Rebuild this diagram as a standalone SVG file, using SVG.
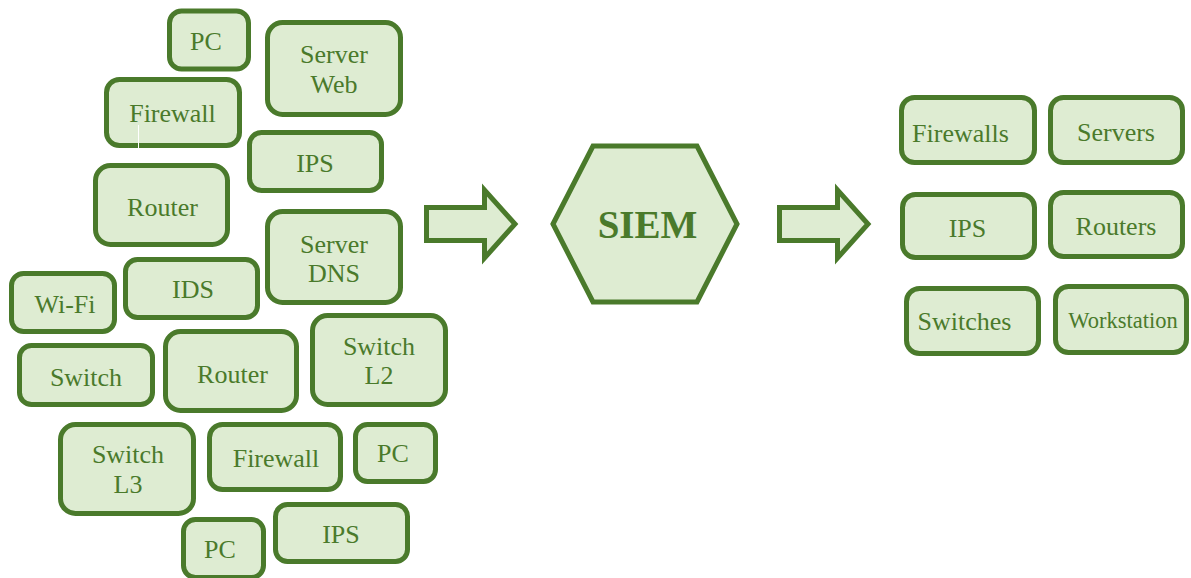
<svg xmlns="http://www.w3.org/2000/svg" width="1191" height="578" viewBox="0 0 1191 578">
<style>
.b{fill:#deecd2;stroke:#4a7a2b;stroke-width:5}
.t{font-family:"Liberation Serif","Times New Roman",serif;font-size:26px;fill:#4a7a2b;text-anchor:middle}
.s{font-weight:bold;font-size:39px}
</style>
<rect width="1191" height="578" fill="#ffffff"/>
<g id="pc1"><rect class="b" x="169.5" y="11" width="79" height="58" rx="12"/><text class="t" x="206" y="50">PC</text></g>
<g id="serverweb"><rect class="b" x="267.5" y="22.5" width="133" height="92" rx="15"/><text class="t" x="334" y="63">Server</text><text class="t" x="334" y="93">Web</text></g>
<g id="firewall1"><rect class="b" x="106.5" y="79.5" width="133" height="66" rx="13"/><text class="t" x="172.5" y="122">Firewall</text><line x1="138.5" y1="125" x2="138.5" y2="148" stroke="#ffffff" stroke-width="1"/></g>
<g id="ips1"><rect class="b" x="249.5" y="132.5" width="132" height="58" rx="12"/><text class="t" x="315" y="172">IPS</text></g>
<g id="router1"><rect class="b" x="95.5" y="165.5" width="132" height="79" rx="15"/><text class="t" x="162.5" y="216">Router</text></g>
<g id="serverdns"><rect class="b" x="267.5" y="211.5" width="133" height="91" rx="15"/><text class="t" x="334" y="253">Server</text><text class="t" x="334" y="282">DNS</text></g>
<g id="wifi"><rect class="b" x="11.5" y="273.5" width="103" height="58" rx="12"/><text class="t" x="65" y="313">Wi-Fi</text></g>
<g id="ids"><rect class="b" x="125.5" y="259.5" width="132" height="58" rx="12"/><text class="t" x="193" y="298">IDS</text></g>
<g id="switch1"><rect class="b" x="19.5" y="345.5" width="133" height="59" rx="12"/><text class="t" x="86" y="386">Switch</text></g>
<g id="router2"><rect class="b" x="165.5" y="331.5" width="131" height="79" rx="15"/><text class="t" x="232.5" y="383">Router</text></g>
<g id="switchl2"><rect class="b" x="312.5" y="315.5" width="133" height="89" rx="15"/><text class="t" x="379" y="355">Switch</text><text class="t" x="379" y="384">L2</text></g>
<g id="switchl3"><rect class="b" x="60.5" y="424.5" width="133" height="89" rx="15"/><text class="t" x="128" y="463">Switch</text><text class="t" x="128" y="493">L3</text></g>
<g id="firewall2"><rect class="b" x="209.5" y="424.5" width="131" height="65" rx="13"/><text class="t" x="276" y="467">Firewall</text></g>
<g id="pc2"><rect class="b" x="355.5" y="424.5" width="80" height="57" rx="12"/><text class="t" x="393" y="462">PC</text></g>
<g id="pc3"><rect class="b" x="183.5" y="519.5" width="80" height="58" rx="12"/><text class="t" x="220" y="558">PC</text></g>
<g id="ips2"><rect class="b" x="275.5" y="504.5" width="132" height="57" rx="12"/><text class="t" x="341" y="543">IPS</text></g>
<g id="connectors">
<polygon class="b" points="426.5,207.5 484.5,207.5 484.5,190 515,224 484.5,258 484.5,240.5 426.5,240.5"/>
<polygon class="b" points="779.5,207.5 837.5,207.5 837.5,190 868,224 837.5,258 837.5,240.5 779.5,240.5"/>
</g>
<g id="siem"><polygon class="b" points="553,224 593,146 697,146 737,224 697,302 593,302"/><text class="t s" x="647.5" y="238">SIEM</text></g>
<g id="firewalls"><rect class="b" x="901.5" y="97.5" width="133" height="65" rx="13"/><text class="t" x="960.5" y="142">Firewalls</text></g>
<g id="servers"><rect class="b" x="1050.5" y="97.5" width="132" height="65" rx="13"/><text class="t" x="1116" y="141">Servers</text></g>
<g id="ips3"><rect class="b" x="902.5" y="194.5" width="132" height="63" rx="13"/><text class="t" x="967.5" y="237">IPS</text></g>
<g id="routers"><rect class="b" x="1050.5" y="192.5" width="132" height="64" rx="13"/><text class="t" x="1116" y="235">Routers</text></g>
<g id="switches"><rect class="b" x="906.5" y="288.5" width="132" height="65" rx="13"/><text class="t" x="964.5" y="330">Switches</text></g>
<g id="workstation"><rect class="b" x="1055.5" y="286.5" width="131" height="66" rx="13"/><text class="t" x="1123" y="328" style="font-size:22.5px">Workstation</text></g>
</svg>
